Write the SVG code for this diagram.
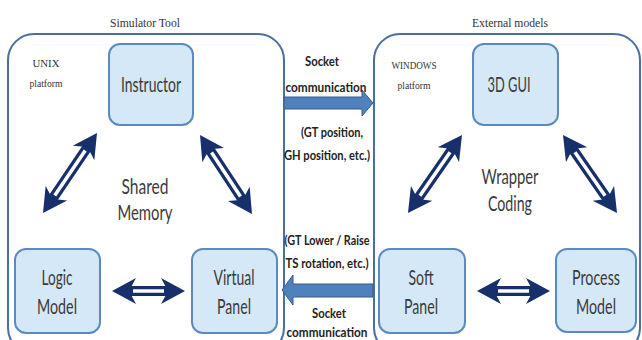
<svg xmlns="http://www.w3.org/2000/svg" width="642" height="340" viewBox="0 0 642 340">
<style>
.container{fill:#fff;stroke:#4a6f9f;stroke-width:2}
.box{fill:#d5e8f8;stroke:#5b8ac2;stroke-width:2}
.lbl{font-family:Lato,"Liberation Sans",sans-serif;font-size:21px;fill:#3a3a3a;text-anchor:middle}
.mid{font-family:Lato,"Liberation Sans",sans-serif;font-size:14px;font-weight:bold;fill:#222;text-anchor:middle}
.ser{font-family:"Liberation Serif",serif;fill:#333;text-anchor:middle}
.shaft{stroke:#17306b;stroke-width:10;fill:none}
.inner{stroke:#fff;stroke-width:3.5;fill:none}
.block{fill:#4f81bd;stroke:#385d8a;stroke-width:1}
</style>
<defs>
<marker id="head" viewBox="0 -14 24 28" refX="9" refY="0" markerWidth="24" markerHeight="28" markerUnits="userSpaceOnUse" orient="auto-start-reverse">
<path d="M24,0 L0,-13 L7,0 L0,13 Z" fill="#17306b"/>
</marker>
</defs>

<g id="simulator-tool">
<rect class="container" x="8" y="34" width="276" height="320" rx="26"/>
<text class="ser" x="145" y="27" font-size="13" textLength="70" lengthAdjust="spacingAndGlyphs">Simulator Tool</text>
<text class="ser" x="46" y="67" font-size="10.5" textLength="27" lengthAdjust="spacingAndGlyphs">UNIX</text>
<text class="ser" x="46" y="87" font-size="10.5" textLength="33" lengthAdjust="spacingAndGlyphs">platform</text>
</g>

<g id="external-models">
<rect class="container" x="374" y="34" width="266" height="320" rx="26"/>
<text class="ser" x="510" y="27" font-size="13" textLength="76" lengthAdjust="spacingAndGlyphs">External models</text>
<text class="ser" x="414" y="69" font-size="10.5" textLength="45" lengthAdjust="spacingAndGlyphs">WINDOWS</text>
<text class="ser" x="414" y="89" font-size="10.5" textLength="33" lengthAdjust="spacingAndGlyphs">platform</text>
</g>

<g id="instructor">
<rect class="box" x="109" y="44" width="84" height="81" rx="11"/>
<text class="lbl" x="151" y="92" textLength="60" lengthAdjust="spacingAndGlyphs">Instructor</text>
</g>

<g id="gui3d">
<rect class="box" x="473" y="44" width="85" height="81" rx="11"/>
<text class="lbl" x="509" y="92" textLength="43" lengthAdjust="spacingAndGlyphs">3D GUI</text>
</g>

<g id="logic-model">
<rect class="box" x="15" y="249" width="85" height="84" rx="11"/>
<text class="lbl" x="57" y="285" textLength="31" lengthAdjust="spacingAndGlyphs">Logic</text>
<text class="lbl" x="57" y="314" textLength="40" lengthAdjust="spacingAndGlyphs">Model</text>
</g>

<g id="virtual-panel">
<rect class="box" x="192" y="249" width="85" height="84" rx="11"/>
<text class="lbl" x="234" y="285" textLength="41" lengthAdjust="spacingAndGlyphs">Virtual</text>
<text class="lbl" x="234" y="314" textLength="34" lengthAdjust="spacingAndGlyphs">Panel</text>
</g>

<g id="soft-panel">
<rect class="box" x="379" y="249" width="86" height="84" rx="11"/>
<text class="lbl" x="421" y="285" textLength="25" lengthAdjust="spacingAndGlyphs">Soft</text>
<text class="lbl" x="421" y="314" textLength="34" lengthAdjust="spacingAndGlyphs">Panel</text>
</g>

<g id="process-model">
<rect class="box" x="556" y="249" width="80" height="83" rx="11"/>
<text class="lbl" x="596" y="285" textLength="48" lengthAdjust="spacingAndGlyphs">Process</text>
<text class="lbl" x="596" y="314" textLength="40" lengthAdjust="spacingAndGlyphs">Model</text>
</g>

<g id="shared-memory">
<text class="lbl" x="145" y="194" textLength="47" lengthAdjust="spacingAndGlyphs">Shared</text>
<text class="lbl" x="145" y="220" textLength="55" lengthAdjust="spacingAndGlyphs">Memory</text>
</g>

<g id="wrapper-coding">
<text class="lbl" x="510" y="184" textLength="57" lengthAdjust="spacingAndGlyphs">Wrapper</text>
<text class="lbl" x="510" y="211" textLength="44" lengthAdjust="spacingAndGlyphs">Coding</text>
</g>

<g id="connectors">
<g transform="translate(43,213) rotate(-55.98)">
<path class="shaft" d="M15,0 H81.5" marker-start="url(#head)" marker-end="url(#head)"/>
<path class="inner" d="M21,0 H75.5"/>
</g>
<g transform="translate(200,135) rotate(56.65)">
<path class="shaft" d="M15,0 H79.6" marker-start="url(#head)" marker-end="url(#head)"/>
<path class="inner" d="M21,0 H73.6"/>
</g>
<g transform="translate(462,135) rotate(124.7)">
<path class="shaft" d="M15,0 H79.9" marker-start="url(#head)" marker-end="url(#head)"/>
<path class="inner" d="M21,0 H73.9"/>
</g>
<g transform="translate(563,135) rotate(55.3)">
<path class="shaft" d="M15,0 H79.9" marker-start="url(#head)" marker-end="url(#head)"/>
<path class="inner" d="M21,0 H73.9"/>
</g>
<g transform="translate(112,291)">
<path class="shaft" d="M15,0 H58" marker-start="url(#head)" marker-end="url(#head)"/>
<path class="inner" d="M21,0 H52"/>
</g>
<g transform="translate(477,291)">
<path class="shaft" d="M15,0 H58" marker-start="url(#head)" marker-end="url(#head)"/>
<path class="inner" d="M21,0 H52"/>
</g>
<polygon class="block" points="284,97 362,97 362,90 373,103 362,116 362,109 284,109"/>
<polygon class="block" points="373,284 293,284 293,275 282,290 293,305 293,297 373,297"/>
<text class="mid" x="322" y="66" textLength="34" lengthAdjust="spacingAndGlyphs">Socket</text>
<text class="mid" x="326" y="92" textLength="81" lengthAdjust="spacingAndGlyphs">communication</text>
<text class="mid" x="332" y="137" textLength="62" lengthAdjust="spacingAndGlyphs">(GT position,</text>
<text class="mid" x="327" y="160" textLength="86" lengthAdjust="spacingAndGlyphs">GH position, etc.)</text>
<text class="mid" x="327" y="245" textLength="85" lengthAdjust="spacingAndGlyphs">(GT Lower / Raise</text>
<text class="mid" x="327" y="268" textLength="83" lengthAdjust="spacingAndGlyphs">TS rotation, etc.)</text>
<text class="mid" x="329" y="318" textLength="34" lengthAdjust="spacingAndGlyphs">Socket</text>
<text class="mid" x="327" y="337" textLength="81" lengthAdjust="spacingAndGlyphs">communication</text>
</g>
</svg>
